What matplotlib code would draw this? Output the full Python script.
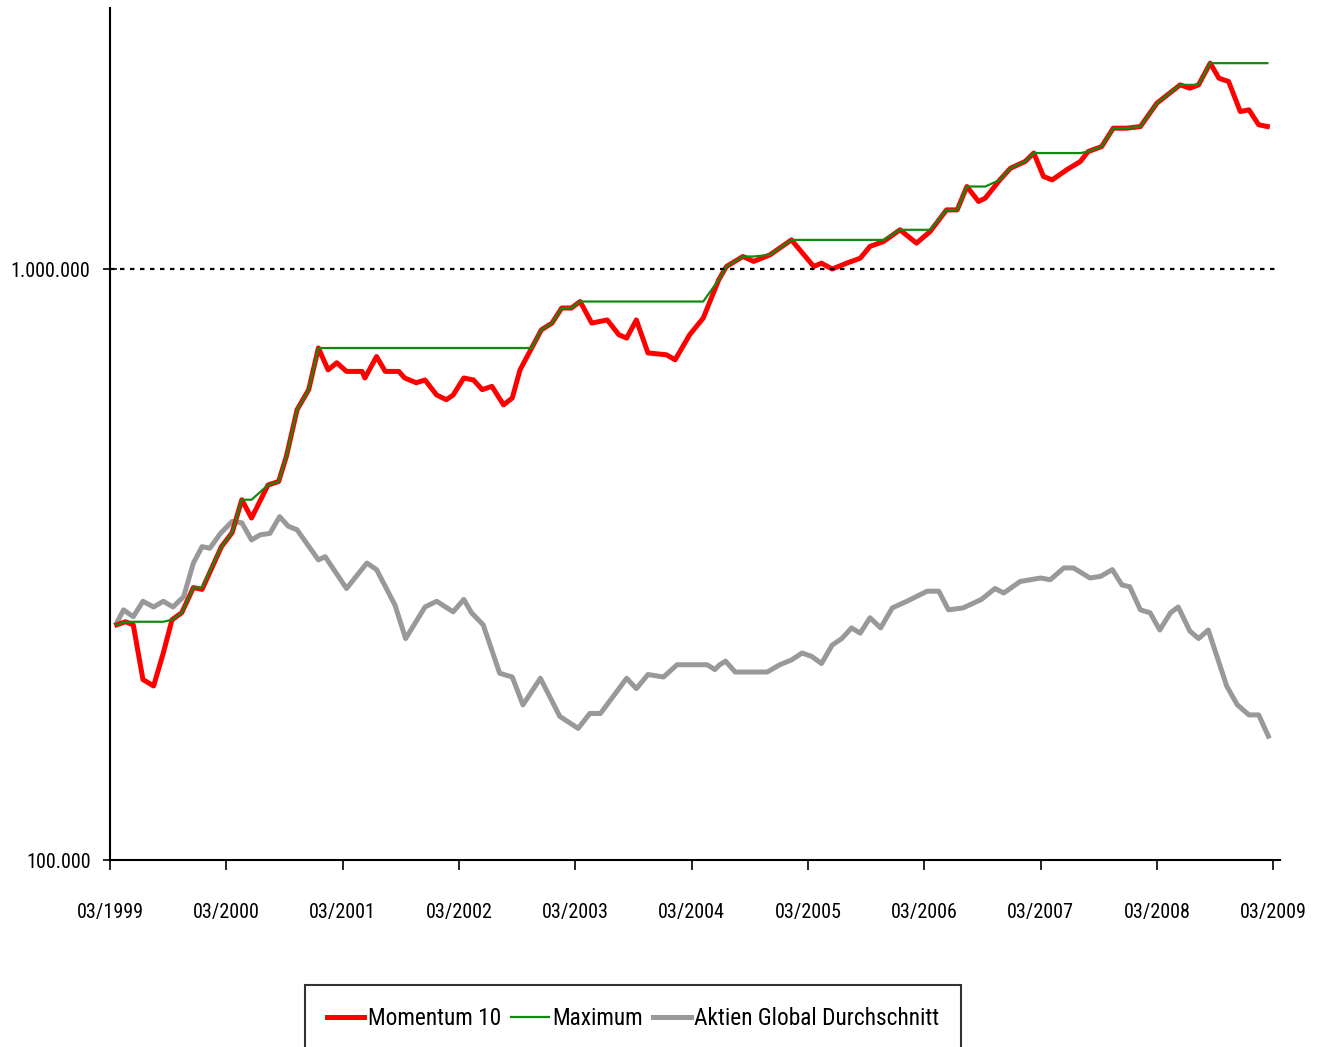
import numpy as np
import matplotlib.pyplot as plt
from matplotlib import font_manager

# x = months since 03/1999, values in thousands
mom_months = [0.7, 1.6, 2.4, 3.4, 4.5, 5.5, 6.4, 7.4, 8.6, 9.5, 11.5, 12.6, 13.6, 14.6,
              16.3, 17.4, 18.2, 19.3, 20.5, 21.5, 22.5, 23.4, 24.4, 26.0, 26.3, 27.5,
              28.4, 29.8, 30.4, 31.6, 32.5, 33.7, 34.7, 35.4, 36.5, 37.5, 38.4, 39.4,
              40.6, 41.5, 42.3, 43.5, 44.5, 45.6, 46.6, 47.6, 48.5, 49.7, 51.3, 52.5,
              53.3, 54.3, 55.5, 57.4, 58.3, 59.8, 61.2, 62.8, 63.6, 65.3, 66.4, 68.1,
              70.3, 72.6, 73.4, 74.5, 76.0, 77.4, 78.4, 79.8, 81.5, 83.2, 84.6, 86.3,
              87.4, 88.4, 89.6, 90.3, 91.8, 92.9, 94.4, 95.3, 96.3, 97.2, 98.7, 100.1,
              100.9, 102.3, 103.5, 104.9, 106.3, 108.0, 110.4, 111.4, 112.3, 113.5,
              114.4, 115.4, 116.6, 117.5, 118.5, 119.4]
mom_values = [250, 253, 250, 202, 197, 224, 255, 262, 289, 287, 339, 358, 407, 379,
              431, 437, 482, 578, 625, 735, 675, 694, 671, 671, 654, 711,
              671, 671, 654, 642, 649, 612, 601, 612, 654, 649, 625, 633,
              589, 605, 675, 735, 789, 810, 859, 859, 881, 810, 820, 774,
              764, 820, 721, 716, 702, 774, 826, 959, 1010, 1050, 1030, 1057,
              1120, 1010, 1023, 1000, 1023, 1043, 1092, 1113, 1165, 1106, 1157, 1259,
              1259, 1379, 1301, 1318, 1415, 1481, 1520, 1571, 1434, 1415, 1472, 1520,
              1580, 1611, 1731, 1731, 1742, 1908, 2049, 2023, 2049, 2230,
              2103, 2076, 1847, 1859, 1754, 1742]

glob_months = [0.7, 1.4, 2.4, 3.4, 4.5, 5.5, 6.5, 7.6, 8.6, 9.5, 10.3, 11.4, 12.6, 13.6,
               14.6, 15.5, 16.5, 17.5, 18.4, 19.3, 21.5, 22.2, 24.4, 26.5, 27.5, 29.4,
               30.5, 32.5, 33.7, 35.4, 36.5, 37.3, 38.5, 40.2, 41.5, 42.6, 44.4, 46.4,
               48.3, 49.5, 50.6, 53.3, 54.3, 55.5, 57.1, 58.5, 61.6, 62.4, 62.9, 63.5,
               64.5, 67.8, 69.1, 70.3, 71.4, 72.4, 73.4, 74.5, 75.5, 76.5, 77.4, 78.4,
               79.5, 80.7, 82.2, 84.3, 85.5, 86.5, 88.0, 89.9, 91.3, 92.2, 93.9, 96.0,
               97.0, 98.4, 99.4, 101.1, 102.2, 103.4, 104.4, 105.2, 106.3, 107.3, 108.3,
               109.4, 110.2, 111.4, 112.3, 113.3, 115.2, 116.3, 117.5, 118.5, 119.5]
glob_values = [252, 265, 258, 274, 268, 274, 268, 279, 318, 339, 337, 357, 374, 372,
               348, 355, 357, 381, 367, 362, 322, 326, 288, 318, 310, 270,
               237, 268, 274, 263, 276, 262, 250, 207, 204, 183, 203, 175,
               167, 177, 177, 203, 195, 206, 204, 214, 214, 210, 214, 217,
               208, 208, 214, 218, 224, 221, 215, 231, 237, 247, 242, 257,
               247, 267, 274, 285, 285, 265, 267, 276, 288, 283, 296, 300,
               298, 312, 312, 300, 302, 310, 292, 290, 265, 262, 245,
               262, 268, 244, 237, 245, 197, 183, 176, 176, 162]

tick_months = list(range(0, 121, 12))
tick_labels = ["03/%d" % y for y in range(1999, 2010)]


def find_narrow_file():
    # any condensed / narrow face that happens to be installed
    cands = []
    for f in font_manager.fontManager.ttflist:
        name = (f.name + " " + str(f.fname)).lower()
        stretch = str(f.stretch).lower()
        if f.style != "normal" or "bold" in name or "oblique" in name or "italic" in name:
            continue
        if "condensed" in stretch or "narrow" in name or "condensed" in name:
            cands.append(f)
    prefs = ["liberation sans narrow", "roboto", "dejavu sans", "noto sans", "open sans"]
    for p in prefs:
        for f in cands:
            if f.name.lower().startswith(p):
                return f.fname
    return cands[0].fname if cands else None


narrow_file = find_narrow_file()
if narrow_file:
    tick_font = font_manager.FontProperties(fname=narrow_file, size=14.5)
    leg_font = font_manager.FontProperties(fname=narrow_file, size=16.8)
else:
    tick_font = font_manager.FontProperties(family="Roboto", size=13)
    leg_font = font_manager.FontProperties(family="Roboto", size=15.5)

mom = np.array(mom_values) * 1000.0
glob = np.array(glob_values) * 1000.0
maximum = np.maximum.accumulate(mom)

fig = plt.figure(figsize=(13.3, 10.47), dpi=100)
ax = fig.add_axes([0.0827, 0.1786, 0.8797, 0.8138])

ax.plot(glob_months, glob, color="#999999", lw=3.6, label="Aktien Global Durchschnitt")
ax.plot(mom_months, mom, color="#ff0000", lw=3.6, label="Momentum 10")
ax.plot(mom_months, maximum, color="#128a12", lw=1.6, label="Maximum")
ax.axhline(1e6, color="black", lw=1.6, ls=(0, (2, 2.5)))

ax.set_yscale("log")
ax.set_ylim(1e5, 2.765e6)
ax.set_xlim(0, 120.7)
ax.set_yticks([1e5, 1e6])
ax.set_yticklabels(["100.000", "1.000.000"], fontproperties=tick_font)
ax.minorticks_off()
ax.set_xticks(tick_months)
ax.set_xticklabels(tick_labels, fontproperties=tick_font)

for s in ["top", "right"]:
    ax.spines[s].set_visible(False)
for s in ["left", "bottom"]:
    ax.spines[s].set_linewidth(1.5)
ax.tick_params(axis="x", direction="out", length=7, width=1.2, pad=24)
ax.tick_params(axis="y", direction="inout", length=10, width=1.2, pad=9)

handles, labels = ax.get_legend_handles_labels()
order = [1, 2, 0]
leg = fig.legend([handles[i] for i in order], [labels[i] for i in order],
                 loc="upper center", bbox_to_anchor=(0.476, 0.0592), ncol=3,
                 frameon=True, fancybox=False, prop=leg_font, handlelength=1.6,
                 handletextpad=0.15, columnspacing=0.45, borderpad=0.95,
                 borderaxespad=0)
leg.get_frame().set_edgecolor("black")
leg.get_frame().set_linewidth(1.5)

fig.savefig("out.png", dpi=100)
